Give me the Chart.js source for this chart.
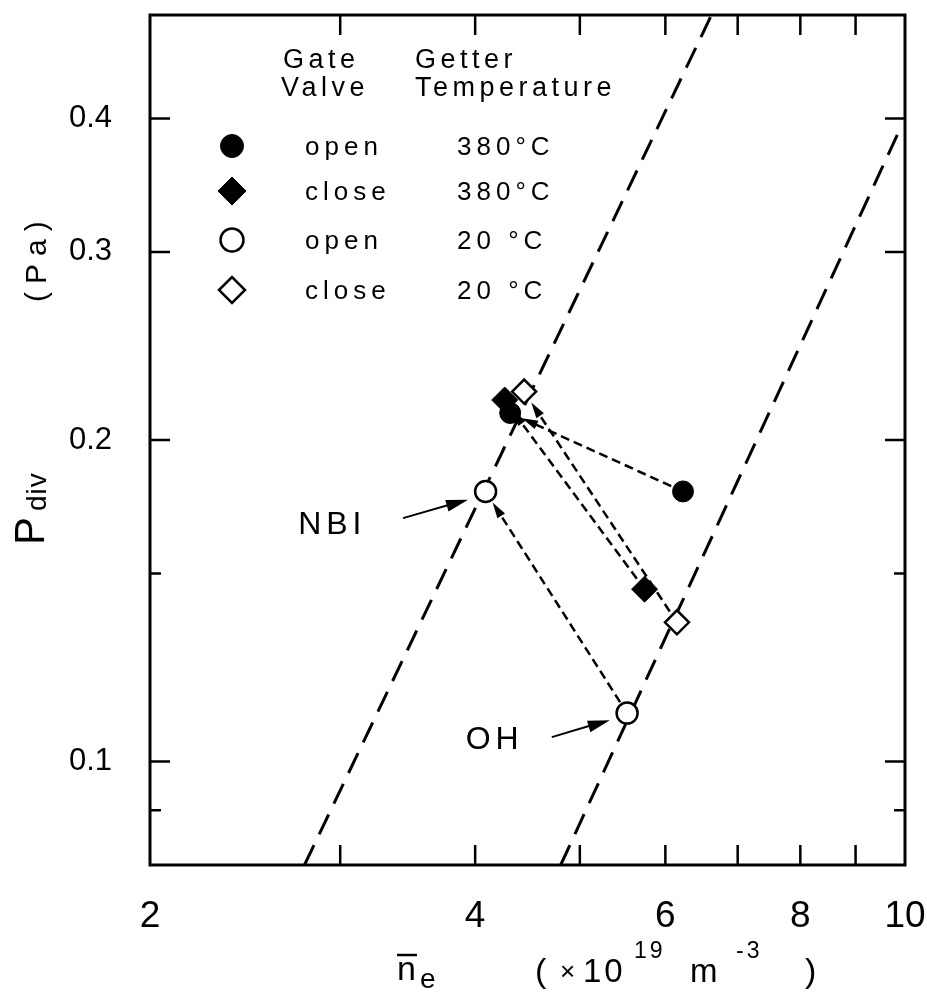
<!DOCTYPE html>
<html>
<head>
<meta charset="utf-8">
<script src="https://cdn.jsdelivr.net/npm/chart.js@4.4.0/dist/chart.umd.min.js"></script>
<style>
html, body { margin: 0; padding: 0; background: #fff; }
</style>
</head>
<body>
<canvas id="c" width="927" height="995"></canvas>
<script>
// axis ticks
const xTickLabels = [2, 4, 6, 8, 10];
const xTickMarks = [3, 4, 5, 6, 7, 8, 9];
const yTickLabels = [0.1, 0.2, 0.3, 0.4];
const yTickMajor = [0.1, 0.2, 0.3, 0.4];
const yTickMinor = [0.09, 0.15];

// measured points: index 0 = end state, index 1 = start state (arrow goes 1 -> 0)
const openHotX = [4.31, 6.23];
const openHotY = [0.212, 0.179];
const closeHotX = [4.26, 5.74];
const closeHotY = [0.218, 0.145];
const openColdX = [4.09, 5.53];
const openColdY = [0.179, 0.111];
const closeColdX = [4.44, 6.15];
const closeColdY = [0.222, 0.135];

// scaling lines
const nbiLineX = [2.78, 6.62];
const nbiLineY = [0.08, 0.5];
const ohLineX = [4.80, 9.87];
const ohLineY = [0.08, 0.389];

// legend
const legendValve = ['open', 'close', 'open', 'close'];
const legendTemp = ['380°C', '380°C', '20 °C', '20 °C'];

const FONT = '"Liberation Sans", Arial, sans-serif';
const toPts = (xs, ys) => xs.map((x, i) => ({ x, y: ys[i] }));

function arrowHead(ctx, x1, y1, x2, y2, len, half) {
    const a = Math.atan2(y2 - y1, x2 - x1);
    const bx = x2 - len * Math.cos(a), by = y2 - len * Math.sin(a);
    ctx.beginPath();
    ctx.moveTo(x2, y2);
    ctx.lineTo(bx + half * Math.sin(a), by - half * Math.cos(a));
    ctx.lineTo(bx - half * Math.sin(a), by + half * Math.cos(a));
    ctx.closePath();
    ctx.fill();
}

// dashed arrows between the two states of each series
const arrowsPlugin = {
    id: 'arrows',
    beforeDatasetsDraw(chart) {
        const ctx = chart.ctx;
        const x = chart.scales.x, y = chart.scales.y;
        ctx.save();
        ctx.strokeStyle = '#000';
        ctx.fillStyle = '#000';
        ctx.lineWidth = 2.5;
        [0, 1, 2, 3].forEach(i => {
            const pts = chart.data.datasets[i].data;
            const sx = x.getPixelForValue(pts[1].x), sy = y.getPixelForValue(pts[1].y);
            const ex = x.getPixelForValue(pts[0].x), ey = y.getPixelForValue(pts[0].y);
            const d = Math.hypot(ex - sx, ey - sy);
            const ux = (ex - sx) / d, uy = (ey - sy) / d;
            const x0 = sx + ux * 13, y0 = sy + uy * 13;
            const x1 = ex - ux * 13, y1 = ey - uy * 13;
            ctx.setLineDash([9, 5]);
            ctx.beginPath();
            ctx.moveTo(x0, y0);
            ctx.lineTo(x1 - ux * 12, y1 - uy * 12);
            ctx.stroke();
            ctx.setLineDash([]);
            arrowHead(ctx, x0, y0, x1, y1, 16, 4.5);
        });
        ctx.restore();
    }
};

// frame and inward ticks on all four sides
const framePlugin = {
    id: 'frame',
    afterDraw(chart) {
        const ctx = chart.ctx;
        const a = chart.chartArea;
        const x = chart.scales.x, y = chart.scales.y;
        ctx.save();
        ctx.strokeStyle = '#000';
        ctx.lineWidth = 3;
        ctx.strokeRect(a.left, a.top, a.right - a.left, a.bottom - a.top);
        ctx.lineWidth = 2.5;
        ctx.beginPath();
        xTickMarks.forEach(v => {
            const px = x.getPixelForValue(v);
            ctx.moveTo(px, a.bottom); ctx.lineTo(px, a.bottom - 20);
            ctx.moveTo(px, a.top); ctx.lineTo(px, a.top + 20);
        });
        yTickMajor.forEach(v => {
            const py = y.getPixelForValue(v);
            ctx.moveTo(a.left, py); ctx.lineTo(a.left + 20, py);
            ctx.moveTo(a.right, py); ctx.lineTo(a.right - 20, py);
        });
        yTickMinor.forEach(v => {
            const py = y.getPixelForValue(v);
            ctx.moveTo(a.left, py); ctx.lineTo(a.left + 11, py);
            ctx.moveTo(a.right, py); ctx.lineTo(a.right - 11, py);
        });
        ctx.stroke();
        ctx.restore();
    }
};

// legend block, NBI / OH labels, axis titles
const textPlugin = {
    id: 'texts',
    afterDraw(chart) {
        const ctx = chart.ctx;
        const x = chart.scales.x, y = chart.scales.y;
        ctx.save();
        ctx.fillStyle = '#000';
        ctx.strokeStyle = '#000';
        ctx.textBaseline = 'alphabetic';
        ctx.textAlign = 'left';
        ctx.letterSpacing = '4.5px';
        ctx.font = '27px ' + FONT;
        ctx.fillText('Gate', 283, 68);
        ctx.fillText('Valve', 281, 96);
        ctx.fillText('Getter', 415, 68);
        ctx.fillText('Temperature', 415, 96);

        const rowY = [146, 191, 240, 290];
        const ds = chart.data.datasets;
        const styleOf = [3, 2, 1, 0];
        ctx.letterSpacing = '5px';
        ctx.font = '26px ' + FONT;
        rowY.forEach((ry, i) => {
            const d = ds[styleOf[i]];
            ctx.save();
            ctx.fillStyle = d.backgroundColor;
            ctx.strokeStyle = d.borderColor;
            ctx.lineWidth = d.borderWidth;
            Chart.helpers.drawPoint(ctx, { pointStyle: d.pointStyle, radius: d.pointRadius + 1, borderWidth: d.borderWidth }, 232, ry);
            ctx.restore();
            ctx.fillText(legendValve[i], 305, ry + 9);
            ctx.fillText(legendTemp[i], 457, ry + 9);
        });

        // NBI / OH pointers
        ctx.letterSpacing = '5px';
        ctx.font = '32px ' + FONT;
        ctx.textAlign = 'center';
        ctx.textBaseline = 'middle';
        ctx.fillText('NBI', x.getPixelForValue(2.95), y.getPixelForValue(0.1666));
        ctx.fillText('OH', x.getPixelForValue(4.17), y.getPixelForValue(0.1047));
        ctx.lineWidth = 2;
        const ptr = [[3.43, 0.169, 3.94, 0.1758], [4.71, 0.1054, 5.33, 0.1093]];
        ptr.forEach(p => {
            const x0 = x.getPixelForValue(p[0]), y0 = y.getPixelForValue(p[1]);
            const x1 = x.getPixelForValue(p[2]), y1 = y.getPixelForValue(p[3]);
            ctx.beginPath();
            ctx.moveTo(x0, y0); ctx.lineTo(x1 - 10, y1 + 2.5);
            ctx.stroke();
            arrowHead(ctx, x0, y0, x1, y1, 22, 6);
        });

        // x axis title
        ctx.textAlign = 'left';
        ctx.textBaseline = 'alphabetic';
        ctx.letterSpacing = '0px';
        ctx.font = '34px ' + FONT;
        ctx.fillText('n', 397, 980);
        ctx.lineWidth = 2.5;
        ctx.beginPath(); ctx.moveTo(397, 955); ctx.lineTo(417, 955); ctx.stroke();
        ctx.font = '28px ' + FONT;
        ctx.fillText('e', 420, 988);
        ctx.font = '34px ' + FONT;
        ctx.fillText('(', 535, 982);
        ctx.font = '26px ' + FONT;
        ctx.fillText('×', 560, 980);
        ctx.letterSpacing = '3px';
        ctx.font = '33px ' + FONT;
        ctx.fillText('10', 583, 982);
        ctx.font = '23px ' + FONT;
        ctx.fillText('19', 634, 958);
        ctx.font = '33px ' + FONT;
        ctx.fillText('m', 690, 982);
        ctx.font = '23px ' + FONT;
        ctx.fillText('-3', 736, 958);
        ctx.letterSpacing = '0px';
        ctx.font = '34px ' + FONT;
        ctx.fillText(')', 805, 982);

        // y axis title (rotated)
        ctx.save();
        ctx.translate(44, 545);
        ctx.rotate(-Math.PI / 2);
        ctx.font = '42px ' + FONT;
        ctx.fillText('P', 0, 0);
        ctx.font = '28px ' + FONT;
        ctx.letterSpacing = '1px';
        ctx.fillText('div', 34, 2);
        ctx.restore();
        ctx.save();
        ctx.translate(46, 302);
        ctx.rotate(-Math.PI / 2);
        ctx.letterSpacing = '8px';
        ctx.font = '30px ' + FONT;
        ctx.fillText('(Pa)', 0, 0);
        ctx.restore();
        ctx.restore();
    }
};

const noPad = s => { s.paddingTop = 0; s.paddingBottom = 0; s.paddingLeft = 0; s.paddingRight = 0; };

const chart = new Chart(document.getElementById('c'), {
    type: 'scatter',
    data: {
        datasets: [
            { label: 'close 20 °C', data: toPts(closeColdX, closeColdY), pointStyle: 'rectRot', pointRadius: 12, backgroundColor: '#fff', borderColor: '#000', borderWidth: 2.5, order: 1 },
            { label: 'open 20 °C', data: toPts(openColdX, openColdY), pointStyle: 'circle', pointRadius: 10.5, backgroundColor: '#fff', borderColor: '#000', borderWidth: 2.5, order: 2 },
            { label: 'close 380 °C', data: toPts(closeHotX, closeHotY), pointStyle: 'rectRot', pointRadius: 13, backgroundColor: '#000', borderColor: '#000', borderWidth: 1, order: 3 },
            { label: 'open 380 °C', data: toPts(openHotX, openHotY), pointStyle: 'circle', pointRadius: 10.5, backgroundColor: '#000', borderColor: '#000', borderWidth: 1, order: 4 },
            { label: 'NBI', data: toPts(nbiLineX, nbiLineY), showLine: true, pointRadius: 0, borderColor: '#000', borderWidth: 3, borderDash: [22, 12], order: 5 },
            { label: 'OH', data: toPts(ohLineX, ohLineY), showLine: true, pointRadius: 0, borderColor: '#000', borderWidth: 3, borderDash: [22, 12], order: 6 }
        ]
    },
    options: {
        responsive: false,
        animation: false,
        layout: { padding: { top: 15, right: 22, left: 0, bottom: 0 } },
        plugins: { legend: { display: false }, tooltip: { enabled: false } },
        scales: {
            x: {
                type: 'logarithmic', min: 2, max: 10,
                grid: { display: false, drawTicks: false },
                border: { display: false },
                afterBuildTicks: s => { s.ticks = xTickLabels.map(v => ({ value: v })); },
                afterFit: s => { s.height = 130; noPad(s); },
                ticks: {
                    autoSkip: false, maxRotation: 0, padding: 30, color: '#000',
                    font: { family: FONT, size: 37 },
                    callback: v => String(v)
                }
            },
            y: {
                type: 'logarithmic', min: 0.08, max: 0.5,
                grid: { display: false, drawTicks: false },
                border: { display: false },
                afterBuildTicks: s => { s.ticks = yTickLabels.map(v => ({ value: v })); },
                afterFit: s => { s.width = 150; noPad(s); },
                ticks: {
                    autoSkip: false, padding: 38, color: '#000',
                    font: { family: FONT, size: 31 },
                    callback: v => v.toFixed(1)
                }
            }
        }
    },
    plugins: [arrowsPlugin, framePlugin, textPlugin]
});
</script>
</body>
</html>
